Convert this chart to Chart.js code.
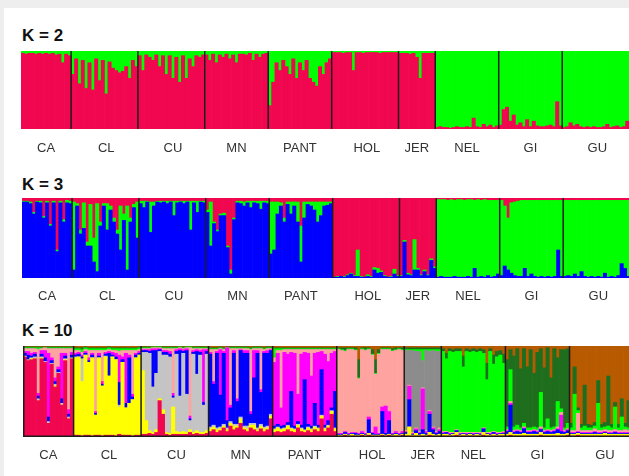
<!DOCTYPE html>
<html>
<head>
<meta charset="utf-8">
<script src="https://cdn.jsdelivr.net/npm/chart.js@4.4.1/dist/chart.umd.min.js"></script>
<style>
  body { margin: 0; width: 629px; height: 476px; overflow: hidden; position: relative;
         background: #eeeeee; font-family: "Liberation Sans", Arial, sans-serif; }
  #sheet { position: absolute; left: 4px; top: 8px; right: 0; bottom: 0; background: #fff; }
  .title { position: absolute; left: 22px; font-weight: bold; font-size: 17px; line-height: 17px; color: #111; }
  canvas { position: absolute; }
</style>
</head>
<body>
<div id="sheet"></div>
<div class="title" style="top:27px">K = 2</div>
<div class="title" style="top:176px">K = 3</div>
<div class="title" style="top:322px">K = 10</div>
<canvas id="k2Canvas" width="608" height="108" style="left:21px;top:51px"></canvas>
<canvas id="k3Canvas" width="608" height="110" style="left:22px;top:198px"></canvas>
<canvas id="k10Canvas" width="614" height="121" style="left:23px;top:346px"></canvas>
<script>
// --------------------
// Populations
// --------------------
const populations = ['CA', 'CL', 'CU', 'MN', 'PANT', 'HOL', 'JER', 'NEL', 'GI', 'GU'];

// --------------------
// K = 2 : share of the green cluster (%) per individual
// --------------------
const k2CA   = [3,4,3,3,4,3,4,3,4,3,5,4,15,4,6];
const k2CL   = [30,10,42,12,48,15,50,10,38,12,55,14,22,25,28,26,20,35,12,20];
const k2CU   = [6,25,5,8,12,5,20,6,30,6,35,8,40,6,35,10,20,6,8,5];
const k2MN   = [5,12,4,15,5,8,4,10,5,15,4,4,5,3,12,4,8,4,3];
const k2PANT = [70,40,15,25,12,20,30,10,35,15,25,12,35,40,45,20,30,15,10];
const k2HOL  = [2,2,2,3,2,2,25,2,2,3,2,2,2,2,3,2,2,2,2,2];
const k2JER  = [3,3,3,4,3,8,35,3,3,3,3];
const k2NEL  = [98,97,98,98,99,98,97,98,98,97,98,86,97,98,94,97,95,98,96];
const k2GI   = [95,75,72,90,82,95,92,97,88,97,90,96,97,97,96,95,97,65,96];
const k2GU   = [98,97,92,96,94,97,98,97,98,97,98,98,97,94,98,97,96,98,97,90];
const k2Colors = ['#F0074F', '#00FF00'];

// --------------------
// K = 3 : [blue, green, red] per individual
// --------------------
const k3CA = [[95,1,4],[95,1,4],[93,2,5],[80,2,18],[95,1,4],[94,2,4],[75,2,23],[94,2,4],
  [65,2,33],[94,2,4],[33,2,65],[94,2,4],[70,3,27],[94,3,3],[93,3,4]];
const k3CL = [[10,85,5],[90,3,7],[55,5,40],[62,32,6],[40,5,55],[40,52,8],[20,30,50],[8,85,7],
  [65,5,30],[90,3,7],[60,33,7],[85,5,10],[70,5,25],[55,5,40],[35,55,10],[72,8,20],[10,80,10],
  [70,5,25],[88,4,8],[50,45,5]];
const k3CU = [[93,3,4],[88,8,4],[95,1,4],[57,38,5],[90,5,5],[95,1,4],[94,2,4],[95,1,4],[93,3,4],
  [95,1,4],[78,18,4],[94,2,4],[95,1,4],[93,3,4],[95,1,4],[60,36,4],[94,2,4],[82,14,4],[95,1,4],[94,2,4]];
const k3MN = [[82,3,15],[40,55,5],[68,2,30],[58,2,40],[78,2,20],[78,3,19],[38,2,60],[5,5,90],
  [73,2,25],[94,2,4],[93,3,4],[90,5,5],[94,2,4],[88,8,4],[94,2,4],[93,3,4],[86,10,4],[94,2,4],[93,3,4]];
const k3PANT = [[30,65,5],[35,60,5],[80,15,5],[90,4,6],[70,5,25],[92,3,5],[80,15,5],[90,5,5],
  [70,25,5],[20,45,35],[75,20,5],[92,3,5],[90,5,5],[85,10,5],[70,25,5],[78,17,5],[90,5,5],[91,4,5],[93,2,5]];
const k3HOL = [[1,0,99],[1,1,98],[2,0,98],[1,1,98],[3,1,96],[5,1,94],[2,1,97],[2,33,65],[1,1,98],
  [1,0,99],[2,2,96],[1,1,98],[10,3,87],[6,6,88],[7,2,91],[2,1,97],[1,0,99],[1,1,98],[5,6,89],[2,1,97]];
const k3JER = [[2,1,97],[45,2,53],[4,2,94],[3,1,96],[10,38,52],[10,2,88],[3,1,96],[8,2,90],
  [3,1,96],[22,2,76],[12,2,86]];
const k3NEL = [[1,97,2],[2,96,2],[1,97,2],[1,96,3],[1,97,2],[2,95,3],[1,97,2],[1,97,2],[1,96,3],
  [2,96,2],[1,97,2],[12,85,3],[1,97,2],[2,95,3],[1,97,2],[3,94,3],[1,96,3],[2,95,3],[5,92,3]];
const k3GI = [[3,94,3],[15,75,10],[10,65,25],[6,88,6],[3,92,5],[2,94,4],[2,95,3],[12,85,3],[2,95,3],
  [5,92,3],[2,95,3],[1,96,3],[2,95,3],[1,96,3],[2,95,3],[1,96,3],[2,95,3],[35,62,3],[2,95,3]];
const k3GU = [[2,95,3],[3,94,3],[2,95,3],[5,92,3],[2,95,3],[8,89,3],[2,95,3],[1,96,3],[2,95,3],
  [1,96,3],[2,95,3],[1,96,3],[6,91,3],[1,96,3],[2,95,3],[1,96,3],[3,94,3],[18,79,3],[12,85,3],[2,95,3]];
const k3Colors = ['#0000FF', '#00FF00', '#F0074F'];

// --------------------
// K = 10 : [red, yellow, silver, blue, magenta, pink, grey, green, dark green, brown]
// --------------------
const k10CA = [
  [88,0,1,3,2,3,0,1,1,1],[84,0,1,5,4,3,0,1,1,1],[85,1,1,2,3,5,0,1,1,1],[86,0,2,3,2,4,0,1,1,1],
  [40,0,2,3,3,48,0,2,1,1],[86,1,1,3,4,2,0,1,1,1],[82,0,1,4,8,3,0,0,1,1],[15,0,2,5,70,5,0,1,1,1],
  [80,0,1,3,3,10,0,1,1,1],[55,1,2,3,4,32,0,1,1,1],[70,0,1,3,3,20,0,1,1,1],[35,0,2,5,50,5,0,1,1,1],
  [84,1,1,3,3,5,0,1,1,1],[20,0,2,3,5,67,0,1,1,1],[86,0,1,3,3,4,0,1,1,1]];
const k10CL = [
  [2,85,1,2,2,3,0,2,1,2],[2,86,0,3,2,2,0,2,1,2],[1,60,25,2,2,3,0,3,2,2],[2,88,0,2,2,2,0,2,1,1],
  [2,80,0,2,3,8,0,2,1,2],[1,86,0,3,2,3,0,2,1,2],[2,22,0,2,2,67,0,2,1,2],[2,85,0,2,3,3,0,2,1,2],
  [1,55,0,2,3,34,0,2,1,2],[2,86,1,2,2,2,0,2,1,2],[2,65,0,25,2,2,0,2,1,1],[2,86,0,2,3,2,0,2,1,2],
  [1,84,0,3,4,3,0,2,1,2],[3,30,2,25,30,4,0,3,1,2],[2,80,0,3,3,7,0,2,1,2],[2,30,0,5,55,3,0,2,1,2],
  [2,35,0,50,3,5,0,2,1,2],[1,40,0,3,3,48,0,2,1,2],[2,85,0,3,2,3,0,2,1,2],[2,88,0,2,2,2,0,2,1,1]];
const k10CU = [
  [3,70,20,2,1,1,0,1,1,1],[3,15,75,2,1,1,0,1,1,1],[4,3,85,2,2,1,0,1,1,1],[3,2,50,40,2,1,0,1,0,1],
  [5,3,62,25,2,1,0,1,0,1],[40,2,52,2,1,1,0,1,0,1],[25,5,60,3,2,2,0,1,1,1],[3,2,85,3,2,2,0,1,1,1],
  [2,2,84,3,3,3,0,1,1,1],[3,30,10,2,3,49,0,1,1,1],[3,3,85,3,2,1,0,1,1,1],[3,2,40,50,2,1,0,1,0,1],
  [3,3,86,2,2,1,0,1,1,1],[3,2,42,48,2,1,0,1,0,1],[5,3,10,2,3,75,0,1,0,1],[3,2,86,2,2,2,0,1,1,1],
  [4,3,62,25,2,1,0,1,1,1],[3,2,85,3,2,2,0,1,1,1],[3,2,30,3,58,1,0,1,1,1],[4,3,84,3,2,1,0,1,1,1]];
const k10MN = [
  [6,3,2,80,2,3,0,1,1,2],[8,3,2,45,3,35,0,1,1,2],[5,3,2,82,2,2,0,1,1,2],[7,2,2,35,50,1,0,1,1,1],
  [10,2,2,78,2,2,0,1,1,2],[6,2,2,8,80,0,0,0,1,1],[12,3,2,15,3,62,0,1,1,1],[8,4,2,78,3,2,0,1,1,1],
  [10,2,2,25,3,55,0,1,1,1],[15,5,2,73,1,1,0,1,1,1],[8,2,2,80,3,2,0,1,1,1],[6,3,3,80,3,2,0,1,1,1],
  [10,3,2,10,3,68,0,1,1,2],[8,5,2,50,30,2,0,1,1,1],[6,2,2,82,3,2,0,1,1,1],[9,3,2,35,3,45,0,1,1,1],
  [6,3,2,82,2,2,0,1,1,2],[8,2,2,80,3,2,0,1,1,1],[20,3,2,70,1,1,0,1,1,1]];
const k10PANT = [
  [5,3,1,3,70,5,0,10,1,2],[6,4,1,3,78,3,0,2,1,2],[5,3,1,3,20,63,0,2,1,2],[6,3,1,3,80,3,0,1,1,2],
  [8,4,1,3,75,5,0,1,1,2],[6,3,1,40,43,3,0,1,1,2],[5,3,1,3,80,4,0,1,1,2],[10,3,1,3,30,49,0,1,1,2],
  [6,3,1,3,78,5,0,1,1,2],[5,2,1,55,30,3,0,1,1,2],[7,3,1,3,78,4,0,1,1,2],[5,3,1,3,55,29,0,1,1,2],
  [8,3,1,25,55,4,0,1,1,2],[6,3,1,3,80,3,0,1,1,2],[20,3,1,50,20,2,0,1,1,2],[6,3,1,3,78,5,0,1,1,2],
  [10,2,1,5,65,13,0,1,1,2],[25,3,1,3,60,4,0,1,1,2],[6,3,1,40,44,2,0,1,1,2]];
const k10HOL = [
  [1,1,0,1,1,92,0,1,1,2],[1,1,0,1,1,91,0,1,2,2],[2,1,0,2,1,88,0,1,3,2],[1,1,0,1,1,92,0,1,1,2],
  [1,2,0,1,1,91,0,1,1,2],[1,1,0,2,1,90,0,1,2,2],[1,1,0,1,1,60,0,1,20,15],[2,1,0,1,2,90,0,1,1,2],
  [1,1,0,1,1,91,0,1,2,2],[2,2,0,15,3,74,0,1,1,2],[1,1,0,2,1,85,0,1,5,4],[1,1,0,1,8,58,0,1,15,15],
  [1,1,0,1,1,87,0,1,4,4],[2,1,0,25,5,63,0,1,1,2],[1,1,0,2,30,62,0,1,1,2],[2,1,0,15,10,68,0,1,1,2],
  [1,1,0,1,1,90,0,1,2,3],[1,2,0,1,2,89,0,1,2,2],[1,1,0,1,1,92,0,1,1,2],[2,1,0,1,2,89,0,1,2,2]];
const k10JER = [
  [1,2,0,2,1,1,88,1,2,2],[1,10,0,30,15,1,38,1,2,2],[1,1,0,1,1,1,90,1,2,2],[1,3,0,3,2,1,84,2,2,2],
  [1,1,0,2,1,1,88,2,2,2],[1,2,0,5,45,1,30,12,2,2],[1,1,0,2,2,1,88,1,2,2],[2,3,0,20,3,1,65,2,2,2],
  [1,2,0,5,2,1,84,1,2,2],[1,1,0,2,1,1,88,2,2,2],[1,2,0,3,2,2,84,2,2,2]];
const k10NEL = [
  [1,2,0,1,1,1,0,88,3,3],[1,2,0,2,0,1,0,80,6,8],[1,1,0,1,1,1,0,89,3,3],[1,2,0,1,0,1,0,88,3,4],
  [2,3,0,2,0,1,0,86,3,3],[1,1,0,1,1,1,0,89,3,3],[1,2,0,1,0,1,0,72,12,11],[1,1,0,1,1,1,0,89,3,3],
  [1,2,0,1,0,1,0,88,3,4],[1,1,0,1,1,1,0,89,3,3],[1,2,0,1,0,1,0,88,3,4],[1,1,0,1,1,1,0,89,3,3],
  [2,3,0,4,0,1,0,82,4,4],[1,2,0,1,0,1,0,58,18,19],[1,1,0,1,1,1,0,89,3,3],[1,2,0,2,0,1,0,74,10,10],
  [1,1,0,1,1,1,0,84,6,6],[1,2,0,1,0,1,0,85,5,5],[1,2,0,1,1,1,0,75,10,9]];
const k10GI = [
  [1,2,0,3,1,1,0,3,74,15],[2,3,0,30,2,2,0,35,22,4],[1,2,0,2,1,1,0,4,78,11],[1,2,0,3,1,1,0,5,84,3],
  [1,2,0,2,1,1,0,3,65,25],[1,3,0,5,1,1,0,4,82,3],[1,2,0,2,1,1,0,3,67,23],[1,2,0,2,1,1,0,3,86,4],
  [1,2,0,3,1,1,0,3,59,30],[1,2,0,2,1,1,0,3,83,7],[2,3,0,3,1,2,0,38,48,3],[1,2,0,2,1,1,0,3,66,24],
  [1,2,0,3,1,1,0,12,78,2],[1,2,0,2,1,1,0,3,55,35],[1,2,0,3,1,1,0,3,85,3],[1,3,0,4,1,2,0,28,48,13],
  [1,2,0,3,18,3,0,4,65,4],[1,2,0,2,1,1,0,3,86,4],[2,2,0,3,1,1,0,6,82,3]];
const k10GU = [
  [1,2,0,1,1,2,0,3,5,85],[1,2,0,1,1,2,0,40,30,23],[2,2,0,1,1,20,0,3,3,68],[1,2,0,1,1,2,0,3,4,86],
  [1,2,0,1,1,2,0,5,45,43],[1,2,0,1,1,2,0,3,4,86],[1,2,0,1,1,2,0,3,3,87],[1,2,0,2,1,3,0,3,4,84],
  [1,2,0,1,1,2,0,30,25,38],[1,2,0,1,1,2,0,3,4,86],[1,3,0,1,1,2,0,3,5,84],[1,2,0,1,1,2,0,5,55,33],
  [1,2,0,1,1,2,0,3,4,86],[1,2,0,2,1,2,0,25,5,62],[1,2,0,1,1,2,0,3,4,86],[1,2,0,1,1,2,0,15,20,58],
  [1,2,0,1,1,3,0,3,4,85],[1,2,0,1,1,2,0,3,30,60],[2,2,0,1,1,2,0,3,4,85],[1,2,0,1,1,2,0,10,10,73]];
const k10Colors = ['#F0074F', '#FFFF00', '#C4C4C4', '#0000FF', '#FF00FF',
                   '#FFA3A0', '#8C8C8C', '#00FF00', '#1E6E1E', '#B75A00'];

// --------------------
// Separator lines + frame
// --------------------
const separators = {
    id: 'separators',
    afterDatasetsDraw(chart, args, opts) {
        const { ctx, chartArea, scales: { x } } = chart;
        ctx.save();
        ctx.strokeStyle = '#1c1c1c';
        ctx.lineWidth = 1.5;
        opts.starts.forEach(i => {
            const px = (x.getPixelForValue(i - 1) + x.getPixelForValue(i)) / 2;
            ctx.beginPath();
            ctx.moveTo(px, chartArea.top);
            ctx.lineTo(px, chartArea.bottom);
            ctx.stroke();
        });
        if (opts.frame) {
            ctx.beginPath();
            ctx.moveTo(chartArea.left + 0.75, chartArea.top);
            ctx.lineTo(chartArea.left + 0.75, chartArea.bottom - 0.75);
            ctx.lineTo(chartArea.right, chartArea.bottom - 0.75);
            ctx.stroke();
        }
        ctx.restore();
    }
};

// --------------------
// Build one STRUCTURE panel
// --------------------
function makePanel(canvasId, popRows, colors, labelGap, frame) {
    const rows = popRows.flat();
    const labels = rows.map((r, i) => 'ind' + (i + 1));

    const tickNames = {};
    const starts = [];
    let n = 0;
    popRows.forEach((pop, p) => {
        if (p > 0) starts.push(n);
        tickNames[n + Math.floor(pop.length / 2)] = populations[p];
        n += pop.length;
    });

    const datasets = colors.map((color, c) => ({
        data: rows.map(r => {
            const sum = r.reduce((a, b) => a + b, 0);
            return r[c] / sum * 100;
        }),
        backgroundColor: color,
        borderWidth: 0,
        barPercentage: 1,
        categoryPercentage: 1
    }));

    return new Chart(document.getElementById(canvasId), {
        type: 'bar',
        data: { labels, datasets },
        options: {
            responsive: false,
            animation: false,
            events: [],
            layout: { padding: 0 },
            plugins: {
                legend: { display: false },
                tooltip: { enabled: false },
                separators: { starts, frame }
            },
            scales: {
                x: {
                    stacked: true,
                    grid: { display: false, drawTicks: true, tickLength: labelGap },
                    border: { display: false },
                    ticks: {
                        autoSkip: false,
                        maxRotation: 0,
                        minRotation: 0,
                        padding: 0,
                        color: '#333',
                        font: { family: '"Liberation Sans", Arial, sans-serif', size: 13 },
                        callback: (v, i) => tickNames[i] || ''
                    },
                    afterFit: scale => {
                        scale.height = 30;
                        scale.paddingLeft = 0;
                        scale.paddingRight = 0;
                    }
                },
                y: { stacked: true, display: false, min: 0, max: 100 }
            }
        },
        plugins: [separators]
    });
}

const k2Pops = [k2CA, k2CL, k2CU, k2MN, k2PANT, k2HOL, k2JER, k2NEL, k2GI, k2GU]
    .map(pop => pop.map(g => [100 - g, g]));
const k3Pops = [k3CA, k3CL, k3CU, k3MN, k3PANT, k3HOL, k3JER, k3NEL, k3GI, k3GU];
const k10Pops = [k10CA, k10CL, k10CU, k10MN, k10PANT, k10HOL, k10JER, k10NEL, k10GI, k10GU];

makePanel('k2Canvas', k2Pops, k2Colors, 12, false);
makePanel('k3Canvas', k3Pops, k3Colors, 11, false);
makePanel('k10Canvas', k10Pops, k10Colors, 11, true);
</script>
</body>
</html>
